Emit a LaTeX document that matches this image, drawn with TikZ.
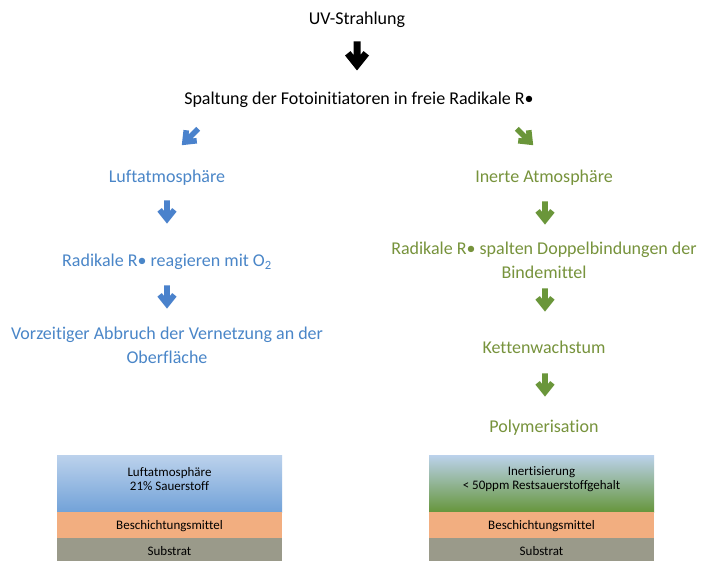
\documentclass[tikz,border=0pt]{standalone}
\usepackage{fontspec}
\setmainfont{Carlito}[Ligatures=NoCommon]
\definecolor{txtblue}{HTML}{4A86C8}
\definecolor{txtgreen}{HTML}{77933C}
\definecolor{arrblue}{HTML}{4A82CC}
\definecolor{arrgreen}{HTML}{6A963A}
\definecolor{skytop}{HTML}{BCD2EC}
\definecolor{skybot}{HTML}{72A2D8}
\definecolor{grnmid}{HTML}{9DB09A}
\definecolor{grnbot}{HTML}{66963C}
\definecolor{coat}{HTML}{F2AE80}
\definecolor{subst}{HTML}{9A9A8A}
\tikzset{
  blockarrow/.pic={\fill[#1] (-3.5,-14.5) -- (3.5,-14.5) -- (3.5,-1.1) -- (6.5,-4.9) -- (12,-0.5) -- (0,14.5) -- (-12,-0.5) -- (-6.5,-4.9) -- (-3.5,-1.1) -- cycle;},
  maintext/.style={font=\fontsize{18}{24}\selectfont, align=center, inner sep=0pt},
  boxtext/.style={font=\fontsize{13}{14}\selectfont, align=center, inner sep=0pt, text=black}
}
\begin{document}
\begin{tikzpicture}[x=1pt,y=-1pt]
\useasboundingbox (0,0) rectangle (701,561);
\fill[white] (0,0) rectangle (701,561);
% top
\node[maintext] (uv) at (357,20) {UV-Strahlung};
\pic at (357,56) {blockarrow=black};
\node[maintext] (spalt) at (359,100) {Spaltung der Fotoinitiatoren in freie Radikale R•};
% left branch
\pic[rotate=-45, scale=0.8] at (190,137) {blockarrow=arrblue};
\node[maintext, text=txtblue] (luft) at (167,178) {Luftatmosphäre};
\pic[scale=0.8] at (167,212) {blockarrow=arrblue};
\node[maintext, text=txtblue] (rad1) at (167,262) {Radikale R• reagieren mit O\textsubscript{2}};
\pic[scale=0.8] at (167,297) {blockarrow=arrblue};
\node[maintext, text=txtblue] (vorz) at (167,345) {Vorzeitiger Abbruch der Vernetzung an der\\Oberfläche};
% right branch
\pic[rotate=45, scale=0.8] at (525,137) {blockarrow=arrgreen};
\node[maintext, text=txtgreen] (inert) at (544,178) {Inerte Atmosphäre};
\pic[scale=0.8] at (545,213) {blockarrow=arrgreen};
\node[maintext, text=txtgreen] (rad2) at (544,260) {Radikale R• spalten Doppelbindungen der\\Bindemittel};
\pic[scale=0.8] at (545,300) {blockarrow=arrgreen};
\node[maintext, text=txtgreen] (kette) at (544,347) {Kettenwachstum};
\pic[scale=0.8] at (545,385) {blockarrow=arrgreen};
\node[maintext, text=txtgreen] (poly) at (544,428) {Polymerisation};
% left layer box
\shade[top color=skytop, bottom color=skybot] (57,455) rectangle (282,512);
\fill[coat] (57,512) rectangle (282,538);
\fill[subst] (57,538) rectangle (282,561);
\node[boxtext] (lluft) at (169.5,479) {Luftatmosphäre\\21\% Sauerstoff};
\node[boxtext] (lcoat) at (169.5,526) {Beschichtungsmittel};
\node[boxtext] (lsub) at (169.5,551) {Substrat};
% right layer box
\shade[top color=skytop, middle color=grnmid, bottom color=grnbot] (429,455) rectangle (654,512);
\fill[coat] (429,512) rectangle (654,538);
\fill[subst] (429,538) rectangle (654,561);
\node[boxtext] (rinert) at (541.5,479) {Inertisierung\\< 50ppm Restsauerstoffgehalt};
\node[boxtext] (rcoat) at (541.5,526) {Beschichtungsmittel};
\node[boxtext] (rsub) at (541.5,551) {Substrat};
\end{tikzpicture}
\end{document}
